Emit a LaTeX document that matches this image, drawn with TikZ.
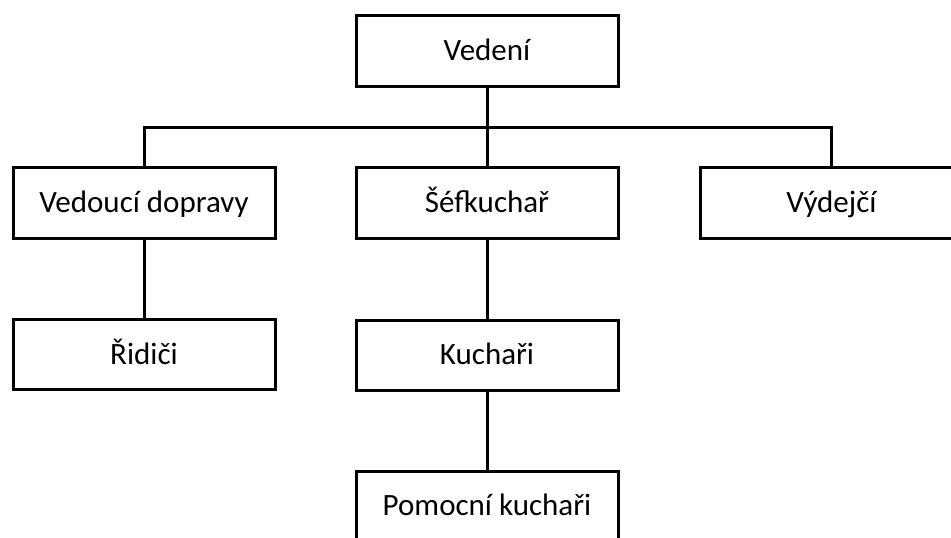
\documentclass[tikz,border=0pt]{standalone}
\usepackage{fontspec}
\setmainfont{Carlito}
\begin{document}
\begin{tikzpicture}[x=1pt,y=-1pt,
  orgbox/.style={draw=black, line width=3pt, fill=white, inner sep=0pt,
    minimum width=262pt, minimum height=71pt,
    text height=22pt, text depth=3pt,
    font=\fontsize{31pt}{37pt}\selectfont},
  link/.style={draw=black, line width=3pt}]
\useasboundingbox (0,0) rectangle (951,538);
\clip (0,0) rectangle (951,538);

% organisation chart boxes
\node[orgbox] (vedeni) at (487,50.5) {Vedení};
\node[orgbox] (doprava) at (144,203) {Vedoucí dopravy};
\node[orgbox] (sef) at (487,203) {Šéfkuchař};
\node[orgbox] (vydej) at (831.5,203) {Výdejčí};
\node[orgbox, minimum height=70pt] (ridici) at (144,354.5) {Řidiči};
\node[orgbox, minimum height=70pt] (kuchari) at (487,355) {Kuchaři};
\node[orgbox, minimum height=70pt] (pomocni) at (487,506) {Pomocní kuchaři};

% horizontal bus level
\coordinate (bus) at (0,127);

% connectors
\draw[link] (vedeni.south) -- (sef.north);
\draw[link] (doprava.north) |- (bus -| vydej.north) -- (vydej.north);
\draw[link] (doprava.south) -- (ridici.north);
\draw[link] (sef.south) -- (kuchari.north);
\draw[link] (kuchari.south) -- (pomocni.north);
\end{tikzpicture}
\end{document}
